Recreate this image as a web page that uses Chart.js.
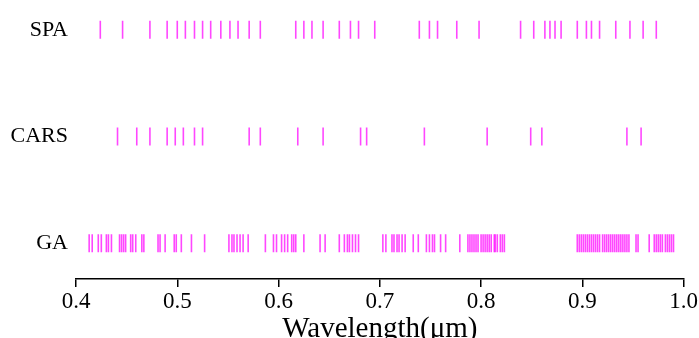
<!DOCTYPE html>
<html>
<head>
<meta charset="utf-8">
<script src="https://cdn.jsdelivr.net/npm/chart.js@4"></script>
<style>
  html, body { margin: 0; padding: 0; background: #fff; }
  #wrap { width: 699px; height: 338px; }
</style>
</head>
<body>
<div id="wrap"><canvas id="chart"></canvas></div>
<script>
// rows, bottom to top
var methods = ['GA', 'CARS', 'SPA'];
var xTicks = [0.4, 0.5, 0.6, 0.7, 0.8, 0.9, 1.0];

// selected wavelengths (um) for each method
var spaWl = [0.424, 0.446, 0.473, 0.490, 0.500, 0.508, 0.517, 0.525, 0.533, 0.543,
  0.552, 0.560, 0.571, 0.582, 0.617, 0.625, 0.633, 0.644, 0.660, 0.671, 0.679, 0.695,
  0.739, 0.749, 0.757, 0.776, 0.798, 0.839, 0.852, 0.863, 0.868, 0.873, 0.879, 0.895,
  0.904, 0.909, 0.917, 0.933, 0.947, 0.960, 0.973];

var carsWl = [0.441, 0.460, 0.473, 0.490, 0.498, 0.506, 0.517, 0.525, 0.571, 0.582,
  0.619, 0.644, 0.681, 0.687, 0.744, 0.806, 0.849, 0.860, 0.944, 0.958];

var gaWl = [0.413, 0.416, 0.422, 0.425, 0.430, 0.432, 0.435, 0.443, 0.445, 0.447,
  0.449, 0.454, 0.456, 0.459, 0.465, 0.467, 0.481, 0.483, 0.488, 0.497, 0.499, 0.504,
  0.514, 0.527, 0.551, 0.554, 0.556, 0.559, 0.562, 0.565, 0.570, 0.587, 0.595, 0.598,
  0.603, 0.606, 0.609, 0.613, 0.615, 0.617, 0.625, 0.641, 0.646, 0.660, 0.665, 0.668,
  0.670, 0.673, 0.676, 0.679, 0.703, 0.706, 0.712, 0.714, 0.717, 0.719, 0.722, 0.725,
  0.733, 0.738, 0.746, 0.749, 0.752, 0.754, 0.760, 0.765, 0.779, 0.787, 0.789, 0.791,
  0.793, 0.795, 0.797, 0.800, 0.802, 0.804, 0.806, 0.808, 0.810, 0.813, 0.814, 0.816,
  0.819, 0.821, 0.823, 0.895, 0.897, 0.899, 0.901, 0.903, 0.905, 0.907, 0.909, 0.911,
  0.913, 0.915, 0.917, 0.920, 0.922, 0.924, 0.926, 0.928, 0.930, 0.932, 0.934, 0.936,
  0.938, 0.940, 0.942, 0.944, 0.946, 0.953, 0.955, 0.966, 0.971, 0.973, 0.975, 0.977,
  0.979, 0.982, 0.984, 0.986, 0.988, 0.990];

var rows = [gaWl, carsWl, spaWl];

var serif = "'Liberation Serif', 'Times New Roman', serif";
var markColor = 'rgba(255, 0, 255, 0.72)';

var datasets = rows.map(function (wl, i) {
  return {
    label: methods[i],
    data: wl.map(function (w) { return { x: w, y: i }; }),
    pointStyle: 'line',
    rotation: 90,
    radius: 9,
    borderColor: markColor,
    backgroundColor: markColor,
    borderWidth: 1.6
  };
});

new Chart(document.getElementById('chart'), {
  type: 'scatter',
  data: { datasets: datasets },
  options: {
    responsive: true,
    maintainAspectRatio: false,
    animation: false,
    events: [],
    layout: { padding: { top: 10, right: 15, left: 0, bottom: 0 } },
    plugins: { legend: { display: false }, tooltip: { enabled: false } },
    scales: {
      x: {
        type: 'linear',
        min: 0.4,
        max: 1.0,
        afterBuildTicks: function (scale) {
          scale.ticks = xTicks.map(function (v) { return { value: v }; });
        },
        afterFit: function (scale) { scale.height = 59; },
        border: { display: true, color: '#000', width: 1.5 },
        grid: { display: true, drawOnChartArea: false, drawTicks: true, tickLength: 8, color: '#000', lineWidth: 1.5 },
        ticks: {
          color: '#000',
          padding: 1,
          maxRotation: 0,
          font: { family: serif, size: 23 },
          callback: function (v) { return Number(v).toFixed(1); }
        },
        title: {
          display: true,
          text: 'Wavelength(μm)',
          color: '#000',
          font: { family: serif, size: 29, lineHeight: 1 },
          padding: { top: 0, bottom: -6 }
        }
      },
      y: {
        type: 'linear',
        min: -0.336,
        max: 2.18,
        afterBuildTicks: function (scale) {
          scale.ticks = methods.map(function (m, i) { return { value: i }; });
        },
        afterFit: function (scale) {
          scale.width = 76;
          scale.paddingTop = 0;
          scale.paddingBottom = 0;
        },
        border: { display: false },
        grid: { display: false, drawTicks: false },
        ticks: {
          color: '#000',
          padding: 8,
          font: { family: serif, size: 22 },
          callback: function (v) { return methods[v]; }
        }
      }
    }
  }
});
</script>
</body>
</html>
